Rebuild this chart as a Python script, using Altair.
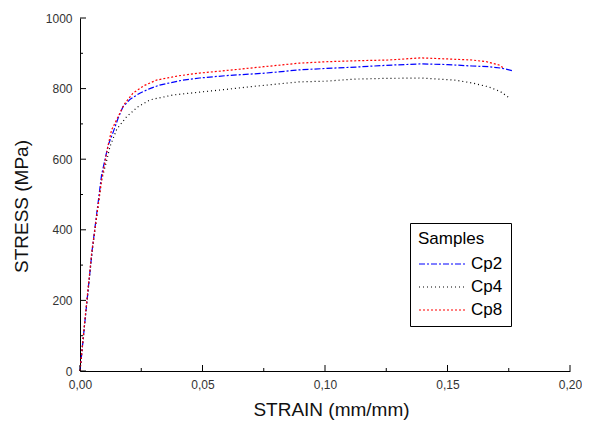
import altair as alt
import pandas as pd

# ---- data ----
cp2_strain = [0, 0.002, 0.005, 0.0088, 0.0115, 0.0134, 0.0155, 0.0175, 0.0205, 0.0244, 0.0285, 0.0325,
              0.042, 0.0488, 0.06, 0.076, 0.0894, 0.1, 0.1126, 0.125, 0.139, 0.15, 0.160, 0.167, 0.172, 0.177]
cp2_stress = [0, 140, 345, 555, 640, 674, 715, 748, 770, 787, 800, 810,
              824, 830, 837, 844, 853, 857, 861, 866, 870, 868, 864, 862, 858, 850]

cp4_strain = [0, 0.002, 0.005, 0.0088, 0.0112, 0.0122, 0.0150, 0.019, 0.0235, 0.0285, 0.038, 0.0488,
              0.06, 0.069, 0.0894, 0.1, 0.1126, 0.125, 0.139, 0.153, 0.160, 0.1667, 0.1715, 0.1748]
cp4_stress = [0, 140, 340, 540, 605, 635, 685, 720, 748, 768, 782, 790,
              798, 805, 819, 821, 827, 829, 830, 824, 816, 805, 792, 776]

cp8_strain = [0, 0.002, 0.00475, 0.0088, 0.0115, 0.0129, 0.0149, 0.018, 0.0216, 0.026, 0.0312, 0.04,
              0.0488, 0.0623, 0.075, 0.0894, 0.1, 0.113, 0.126, 0.139, 0.15, 0.160, 0.166, 0.171, 0.173]
cp8_stress = [0, 145, 334, 541, 640, 683, 711, 755, 787, 808, 824, 836,
              844, 853, 862, 872, 876, 879, 881, 887, 884, 881, 876, 867, 858]

samples = ["Cp2", "Cp4", "Cp8"]
colors = ["#0000ff", "#000000", "#ff0000"]
dashes = [[6, 2, 2, 2], [1, 3], [2, 2]]

x_major = [0, 0.05, 0.10, 0.15, 0.20]
x_minor = [0.025, 0.075, 0.125, 0.175]
y_major = [0, 200, 400, 600, 800, 1000]
y_minor = [100, 300, 500, 700, 900]

W, H = 490, 353

rows = []
for name, xs, ys in [("Cp2", cp2_strain, cp2_stress), ("Cp4", cp4_strain, cp4_stress), ("Cp8", cp8_strain, cp8_stress)]:
    for i, (a, b) in enumerate(zip(xs, ys)):
        rows.append({"sample": name, "strain": a, "stress": b, "order": i})
df = pd.DataFrame(rows)

xscale = alt.Scale(domain=[0, 0.2], nice=False, zero=False)
yscale = alt.Scale(domain=[0, 1000], nice=False)

xaxis = alt.Axis(values=x_major, ticks=False, grid=False, domainColor="black", labelFlush=False,
                 labelExpr="replace(format(datum.value, '.2f'), '.', ',')",
                 labelFont="Liberation Sans", labelFontSize=12, labelColor="#333333",
                 labelPadding=8, title="STRAIN (mm/mm)", titleFont="Liberation Sans",
                 titleFontSize=19, titleFontWeight="normal", titleColor="#111111",
                 titlePadding=10, titleX=251)
yaxis = alt.Axis(values=y_major, ticks=False, grid=False, domainColor="black", format="d",
                 labelFlush=False,
                 labelFont="Liberation Sans", labelFontSize=12, labelColor="#333333",
                 labelPadding=8, title="STRESS (MPa)", titleFont="Liberation Sans",
                 titleFontSize=19, titleFontWeight="normal", titleColor="#111111",
                 titlePadding=14, titleY=188)

lines = alt.Chart(df).mark_line(strokeWidth=1.2).encode(
    x=alt.X("strain:Q", scale=xscale, axis=xaxis),
    y=alt.Y("stress:Q", scale=yscale, axis=yaxis),
    color=alt.Color("sample:N", scale=alt.Scale(domain=samples, range=colors), title="Samples"),
    strokeDash=alt.StrokeDash("sample:N", scale=alt.Scale(domain=samples, range=dashes), title="Samples"),
    order="order:Q",
)

def xticks(vals, length):
    return alt.Chart(pd.DataFrame({"v": vals})).mark_rule(color="black", strokeWidth=1).encode(
        x=alt.X("v:Q", scale=xscale), y=alt.value(H), y2=alt.value(H - length))

def yticks(vals, length):
    return alt.Chart(pd.DataFrame({"v": vals})).mark_rule(color="black", strokeWidth=1).encode(
        y=alt.Y("v:Q", scale=yscale), x=alt.value(0), x2=alt.value(length))

chart = alt.layer(
    lines, xticks(x_major, 6), xticks(x_minor, 3), yticks(y_major, 6), yticks(y_minor, 3)
).properties(
    width=W, height=H,
    autosize=alt.AutoSizeParams(type="none"),
    padding={"left": 72, "top": 10, "right": 12, "bottom": 50},
).configure_view(stroke=None).configure_legend(
    orient="none", legendX=330, legendY=205,
    strokeColor="black", fillColor="white", padding=8,
    titleFont="Liberation Sans", titleFontSize=17, titleFontWeight="normal", titleColor="black",
    labelFont="Liberation Sans", labelFontSize=17, labelColor="black",
    symbolType="M-1,0H4.75", symbolSize=256, symbolStrokeWidth=1.2,
    labelOffset=35, rowPadding=6, titlePadding=7,
)

chart.save("out.html", embed_options={"renderer": "svg", "actions": False})
